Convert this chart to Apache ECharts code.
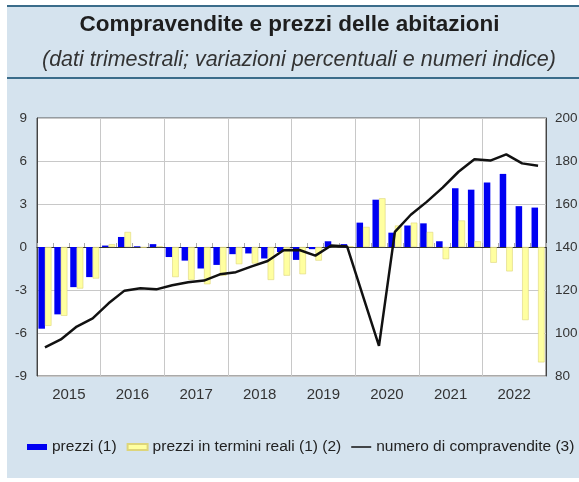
<!DOCTYPE html>
<html>
<head>
<meta charset="utf-8">
<script src="https://cdn.jsdelivr.net/npm/echarts@6/dist/echarts.min.js"></script>
<style>
  * { margin: 0; padding: 0; box-sizing: border-box; }
  body { width: 579px; height: 482px; background: #fff; position: relative; overflow: hidden; }
  /* pannello azzurro dietro al grafico */
  #panel { position: absolute; left: 7px; top: 5px; width: 572px; height: 473px; background: #d5e3ee; }
  #chart { position: absolute; left: 0; top: 0; width: 579px; height: 482px; }
</style>
</head>
<body>
<div id="panel"></div>
<div id="chart"></div>
<script>
// trimestri 2015-2022
var quarters = [
  '2015T1', '2015T2', '2015T3', '2015T4',
  '2016T1', '2016T2', '2016T3', '2016T4',
  '2017T1', '2017T2', '2017T3', '2017T4',
  '2018T1', '2018T2', '2018T3', '2018T4',
  '2019T1', '2019T2', '2019T3', '2019T4',
  '2020T1', '2020T2', '2020T3', '2020T4',
  '2021T1', '2021T2', '2021T3', '2021T4',
  '2022T1', '2022T2', '2022T3', '2022T4'
]
var years = ['2015', '2016', '2017', '2018', '2019', '2020', '2021', '2022']

// prezzi (1) - variazioni percentuali
var prezzi = [
  -5.7, -4.7, -2.8, -2.1,
  0.1, 0.7, 0.05, 0.2,
  -0.7, -0.95, -1.5, -1.25,
  -0.5, -0.45, -0.8, -0.35,
  -0.9, -0.15, 0.4, 0.2,
  1.7, 3.3, 1.0, 1.5,
  1.65, 0.4, 4.1, 4.0,
  4.5, 5.1, 2.85, 2.75
]
// prezzi in termini reali (1) (2)
var prezziReali = [
  -5.5, -4.8, -2.9, -2.2,
  0.2, 1.05, -0.05, 0.05,
  -2.1, -2.3, -2.6, -2.0,
  -1.2, -1.15, -2.3, -2.0,
  -1.9, -0.95, 0.1, 0.05,
  1.4, 3.4, 1.5, 1.7,
  1.05, -0.85, 1.85, 0.4,
  -1.1, -1.7, -5.1, -8.05
]
// numero di compravendite (3) - numeri indice
var compravendite = [
  93.3, 97, 103, 106.8,
  113.8, 119.7, 120.8, 120.3,
  122.2, 123.6, 124.4, 127.3,
  128.3, 131, 133.5, 138.5,
  138.6, 136, 140.7, 140.2,
  117, 94, 147, 155,
  161, 167.6, 175, 180.8,
  180.2, 183.1, 178.9, 177.8
]

var leftTicks = { min: -9, max: 9, interval: 3 }
var rightTicks = { min: 80, max: 200, interval: 20 }

var chart = echarts.init(document.getElementById('chart'))

var option = {
  animation: false,
  textStyle: { fontFamily: 'Liberation Sans' },
  title: [
    {
      text: 'Compravendite e prezzi delle abitazioni',
      left: 'center',
      top: 8,
      textStyle: { fontSize: 22.5, fontWeight: 'bold', color: '#1e1e1e', fontFamily: 'Liberation Sans' }
    },
    {
      text: '(dati trimestrali; variazioni percentuali e numeri indice)',
      left: 37,
      top: 44,
      textStyle: { fontSize: 21.5, fontWeight: 'normal', fontStyle: 'italic', color: '#333', fontFamily: 'Liberation Sans' }
    }
  ],
  graphic: [
    { type: 'line', shape: { x1: 7, y1: 6, x2: 579, y2: 6 }, style: { stroke: '#3a6c8a', lineWidth: 2 } },
    { type: 'line', shape: { x1: 7, y1: 78, x2: 579, y2: 78 }, style: { stroke: '#3a6c8a', lineWidth: 2 } }
  ],
  legend: {
    left: 22,
    top: 434,
    width: 600,
    itemWidth: 20,
    itemHeight: 6,
    itemGap: 10,
    textStyle: { fontSize: 15.5, color: '#222', fontFamily: 'Liberation Sans' },
    data: [
      { name: 'prezzi (1)', icon: 'rect' },
      { name: 'prezzi in termini reali (1) (2)', icon: 'rect' },
      { name: 'numero di compravendite (3)', icon: 'path://M0,0H40V3H0Z' }
    ]
  },
  grid: {
    left: 37,
    top: 118,
    right: 33,
    bottom: 106,
    containLabel: false,
    outerBoundsMode: 'none',
    show: true,
    backgroundColor: '#fff',
    borderColor: '#555',
    borderWidth: 1
  },
  xAxis: [
    {
      type: 'category',
      data: quarters,
      boundaryGap: true,
      axisLine: { show: true, lineStyle: { color: '#333', width: 1 } },
      axisTick: { show: true, inside: true, length: 4, interval: 0, lineStyle: { color: '#aaa' } },
      axisLabel: { show: false },
      splitLine: { show: false }
    },
    {
      type: 'category',
      data: years,
      position: 'bottom',
      boundaryGap: true,
      axisLine: { show: false },
      axisTick: { show: false },
      axisLabel: { show: true, margin: 11, fontSize: 15, color: '#333' },
      splitLine: { show: true, interval: 0, lineStyle: { color: '#c8c8c8', width: 1 } }
    }
  ],
  yAxis: [
    {
      type: 'value',
      min: leftTicks.min,
      max: leftTicks.max,
      interval: leftTicks.interval,
      axisLine: { show: true, lineStyle: { color: '#444' } },
      axisTick: { show: false },
      axisLabel: { margin: 10, fontSize: 13.5, color: '#333' },
      splitLine: { show: true, lineStyle: { color: '#c8c8c8', width: 1 } }
    },
    {
      type: 'value',
      min: rightTicks.min,
      max: rightTicks.max,
      interval: rightTicks.interval,
      position: 'right',
      axisLine: { show: true, lineStyle: { color: '#444' } },
      axisTick: { show: false },
      axisLabel: { margin: 9, fontSize: 13.5, color: '#333', align: 'left' },
      splitLine: { show: false }
    }
  ],
  series: [
    {
      name: 'prezzi (1)',
      type: 'bar',
      xAxisIndex: 0,
      yAxisIndex: 0,
      data: prezzi,
      barGap: '0%',
      barCategoryGap: '18%',
      itemStyle: { color: '#0000f2' }
    },
    {
      name: 'prezzi in termini reali (1) (2)',
      type: 'bar',
      xAxisIndex: 0,
      yAxisIndex: 0,
      data: prezziReali,
      itemStyle: { color: '#ffffa0', borderColor: '#ddd57a', borderWidth: 0.6 }
    },
    {
      name: 'numero di compravendite (3)',
      type: 'line',
      xAxisIndex: 0,
      yAxisIndex: 1,
      data: compravendite,
      showSymbol: false,
      symbol: 'none',
      z: 5,
      itemStyle: { color: '#111' },
      lineStyle: { color: '#111', width: 2.5 }
    }
  ]
}

chart.setOption(option)
</script>
</body>
</html>
